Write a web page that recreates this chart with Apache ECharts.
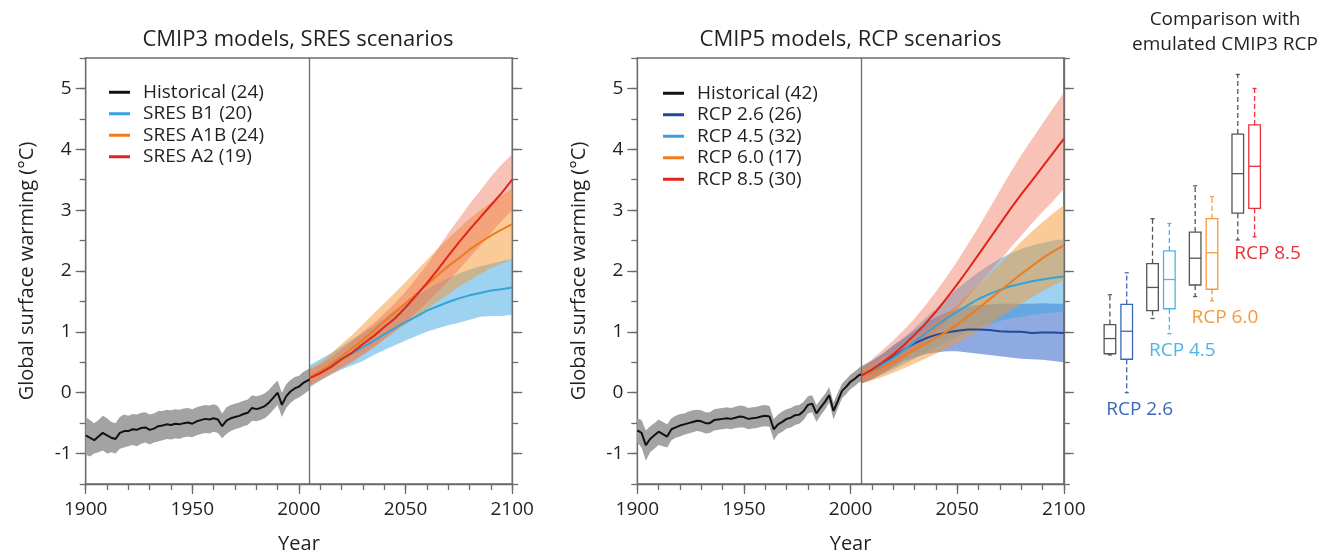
<!DOCTYPE html>
<html>
<head>
<meta charset="utf-8">
<title>Global surface warming: CMIP3 vs CMIP5</title>
<script src="https://cdn.jsdelivr.net/npm/echarts@6.0.0/dist/echarts.min.js"></script>
<style>
  html, body { margin: 0; padding: 0; background: #fff; }
  #chart { width: 1328px; height: 556px; }
</style>
</head>
<body>
<div id="chart"></div>
<script>
// ---- data ----
const splitYear = 2005;
const yTicks = [-1, 0, 1, 2, 3, 4, 5];
const xTicks = [1900, 1950, 2000, 2050, 2100];

const histYears = [
  1900, 1902, 1904, 1906, 1908, 1910, 1912, 1914, 1916, 1918,
  1920, 1922, 1924, 1926, 1928, 1930, 1932, 1934, 1936, 1938,
  1940, 1942, 1944, 1946, 1948, 1950, 1952, 1954, 1956, 1958,
  1960, 1962, 1964, 1966, 1968, 1970, 1972, 1974, 1976, 1978,
  1980, 1982, 1984, 1986, 1988, 1990, 1992, 1994, 1996, 1998,
  2000, 2002, 2004, 2005
];
const projYears = [2005, 2010, 2015, 2020, 2025, 2030, 2035, 2040, 2045, 2050,
  2055, 2060, 2065, 2070, 2075, 2080, 2085, 2090, 2095, 2100];

// CMIP3 historical
const cmip3Hist = [
  -0.70, -0.74, -0.78, -0.72, -0.66, -0.70, -0.74, -0.76, -0.66, -0.63,
  -0.63, -0.60, -0.61, -0.58, -0.57, -0.61, -0.59, -0.55, -0.54, -0.52,
  -0.53, -0.51, -0.52, -0.50, -0.49, -0.51, -0.47, -0.45, -0.43, -0.44,
  -0.42, -0.44, -0.55, -0.46, -0.42, -0.40, -0.38, -0.35, -0.33, -0.25,
  -0.27, -0.25, -0.22, -0.16, -0.08, 0.00, -0.20, -0.06, 0.02, 0.07,
  0.10, 0.16, 0.20, 0.22
];
const cmip3HistLo = [
  -1.02, -1.05, -1.00, -0.98, -0.95, -1.00, -0.98, -1.00, -0.92, -0.90,
  -0.88, -0.86, -0.88, -0.84, -0.82, -0.85, -0.82, -0.80, -0.78, -0.76,
  -0.77, -0.75, -0.76, -0.73, -0.72, -0.73, -0.70, -0.68, -0.66, -0.67,
  -0.64, -0.66, -0.75, -0.68, -0.63, -0.60, -0.58, -0.55, -0.53, -0.46,
  -0.47, -0.45, -0.42, -0.36, -0.28, -0.20, -0.40, -0.25, -0.17, -0.11,
  -0.08, -0.03, 0.02, 0.04
];
const cmip3HistHi = [
  -0.40, -0.45, -0.50, -0.45, -0.38, -0.42, -0.48, -0.50, -0.40, -0.36,
  -0.38, -0.35, -0.36, -0.33, -0.32, -0.36, -0.34, -0.30, -0.30, -0.28,
  -0.29, -0.27, -0.28, -0.26, -0.25, -0.27, -0.24, -0.22, -0.20, -0.21,
  -0.19, -0.22, -0.34, -0.24, -0.20, -0.18, -0.16, -0.13, -0.11, -0.04,
  -0.06, -0.04, -0.01, 0.05, 0.13, 0.20, 0.00, 0.14, 0.21, 0.26,
  0.28, 0.34, 0.38, 0.40
];

// SRES scenarios
const b1Mean = [0.25, 0.35, 0.45, 0.56, 0.65, 0.75, 0.85, 0.96, 1.06, 1.16, 1.25, 1.35, 1.42, 1.49, 1.55, 1.60, 1.64, 1.68, 1.70, 1.73];
const b1Lo = [0.08, 0.20, 0.30, 0.38, 0.45, 0.52, 0.62, 0.70, 0.78, 0.86, 0.93, 1.00, 1.06, 1.11, 1.15, 1.20, 1.25, 1.26, 1.26, 1.28];
const b1Hi = [0.45, 0.55, 0.65, 0.76, 0.88, 0.98, 1.10, 1.22, 1.36, 1.48, 1.60, 1.70, 1.80, 1.88, 1.96, 2.02, 2.08, 2.12, 2.16, 2.20];
const a1bMean = [0.25, 0.35, 0.47, 0.60, 0.73, 0.87, 1.02, 1.17, 1.32, 1.47, 1.62, 1.78, 1.93, 2.08, 2.21, 2.35, 2.47, 2.58, 2.68, 2.77];
const a1bLo = [0.12, 0.22, 0.32, 0.42, 0.52, 0.63, 0.75, 0.88, 1.00, 1.12, 1.24, 1.37, 1.50, 1.62, 1.74, 1.85, 1.95, 2.05, 2.12, 2.20];
const a1bHi = [0.40, 0.50, 0.64, 0.80, 0.95, 1.12, 1.30, 1.47, 1.64, 1.82, 2.00, 2.18, 2.36, 2.54, 2.70, 2.86, 3.00, 3.12, 3.24, 3.35];
const a2Mean = [0.24, 0.32, 0.42, 0.55, 0.66, 0.80, 0.93, 1.08, 1.22, 1.40, 1.60, 1.80, 2.02, 2.25, 2.47, 2.68, 2.88, 3.08, 3.28, 3.50];
const a2Lo = [0.12, 0.20, 0.30, 0.40, 0.50, 0.62, 0.74, 0.88, 1.02, 1.16, 1.32, 1.48, 1.66, 1.84, 2.02, 2.22, 2.42, 2.62, 2.82, 3.00];
const a2Hi = [0.38, 0.46, 0.58, 0.72, 0.85, 1.00, 1.14, 1.30, 1.47, 1.66, 1.88, 2.10, 2.36, 2.62, 2.86, 3.10, 3.32, 3.55, 3.75, 3.92];

// CMIP5 historical
const cmip5Hist = [
  -0.62, -0.66, -0.86, -0.76, -0.70, -0.64, -0.68, -0.72, -0.60, -0.57,
  -0.54, -0.52, -0.50, -0.48, -0.46, -0.47, -0.50, -0.50, -0.45, -0.44,
  -0.43, -0.42, -0.43, -0.41, -0.39, -0.40, -0.43, -0.42, -0.41, -0.39,
  -0.38, -0.39, -0.60, -0.52, -0.48, -0.43, -0.41, -0.37, -0.36, -0.30,
  -0.20, -0.18, -0.34, -0.24, -0.15, -0.04, -0.30, -0.14, 0.03, 0.10,
  0.18, 0.23, 0.29, 0.30
];
const cmip5HistLo = [
  -0.82, -0.90, -1.12, -0.98, -0.92, -0.86, -0.88, -0.90, -0.78, -0.74,
  -0.72, -0.69, -0.67, -0.65, -0.63, -0.64, -0.67, -0.66, -0.62, -0.61,
  -0.60, -0.59, -0.60, -0.58, -0.57, -0.57, -0.60, -0.59, -0.58, -0.56,
  -0.55, -0.56, -0.78, -0.68, -0.64, -0.59, -0.57, -0.53, -0.51, -0.45,
  -0.34, -0.32, -0.48, -0.37, -0.28, -0.16, -0.44, -0.26, -0.09, -0.02,
  0.06, 0.11, 0.17, 0.18
];
const cmip5HistHi = [
  -0.42, -0.45, -0.62, -0.55, -0.50, -0.44, -0.48, -0.52, -0.42, -0.38,
  -0.35, -0.34, -0.31, -0.29, -0.28, -0.29, -0.32, -0.32, -0.27, -0.26,
  -0.25, -0.24, -0.25, -0.23, -0.21, -0.22, -0.25, -0.24, -0.23, -0.21,
  -0.20, -0.22, -0.43, -0.36, -0.31, -0.27, -0.25, -0.21, -0.20, -0.15,
  -0.06, -0.04, -0.20, -0.11, -0.02, 0.09, -0.16, 0.00, 0.15, 0.22,
  0.30, 0.35, 0.41, 0.43
];

// RCP scenarios
const rcp26Mean = [0.28, 0.36, 0.47, 0.59, 0.71, 0.81, 0.89, 0.95, 0.99, 1.02, 1.04, 1.04, 1.03, 1.01, 1.00, 1.00, 0.98, 0.99, 0.99, 0.98];
const rcp26Lo = [0.15, 0.22, 0.32, 0.42, 0.52, 0.58, 0.63, 0.66, 0.68, 0.68, 0.66, 0.64, 0.62, 0.60, 0.58, 0.56, 0.55, 0.54, 0.52, 0.50];
const rcp26Hi = [0.42, 0.52, 0.64, 0.78, 0.90, 1.02, 1.14, 1.24, 1.32, 1.38, 1.42, 1.44, 1.45, 1.46, 1.46, 1.46, 1.46, 1.47, 1.46, 1.46];
const rcp45Mean = [0.28, 0.36, 0.46, 0.57, 0.70, 0.84, 0.97, 1.10, 1.22, 1.33, 1.44, 1.54, 1.62, 1.69, 1.75, 1.79, 1.83, 1.86, 1.89, 1.91];
const rcp45Lo = [0.15, 0.22, 0.30, 0.38, 0.47, 0.56, 0.66, 0.75, 0.84, 0.92, 1.00, 1.07, 1.13, 1.18, 1.22, 1.25, 1.28, 1.30, 1.32, 1.33];
const rcp45Hi = [0.44, 0.52, 0.63, 0.76, 0.90, 1.06, 1.22, 1.38, 1.55, 1.71, 1.85, 1.98, 2.10, 2.20, 2.29, 2.36, 2.42, 2.46, 2.50, 2.52];
const rcp60Mean = [0.28, 0.33, 0.42, 0.50, 0.60, 0.70, 0.80, 0.90, 1.00, 1.12, 1.25, 1.39, 1.53, 1.67, 1.81, 1.95, 2.08, 2.21, 2.32, 2.42];
const rcp60Lo = [0.15, 0.20, 0.26, 0.33, 0.40, 0.48, 0.56, 0.64, 0.73, 0.82, 0.92, 1.02, 1.13, 1.24, 1.35, 1.46, 1.57, 1.67, 1.76, 1.85];
const rcp60Hi = [0.42, 0.48, 0.58, 0.68, 0.80, 0.92, 1.04, 1.16, 1.30, 1.45, 1.62, 1.78, 1.95, 2.12, 2.30, 2.48, 2.65, 2.80, 2.95, 3.08];
const rcp85Mean = [0.28, 0.38, 0.50, 0.63, 0.78, 0.95, 1.13, 1.33, 1.55, 1.78, 2.02, 2.27, 2.52, 2.77, 3.02, 3.26, 3.48, 3.71, 3.94, 4.17];
const rcp85Lo = [0.15, 0.22, 0.32, 0.44, 0.56, 0.70, 0.85, 1.00, 1.18, 1.37, 1.57, 1.78, 1.97, 2.17, 2.38, 2.58, 2.78, 2.97, 3.15, 3.35];
const rcp85Hi = [0.42, 0.55, 0.70, 0.86, 1.03, 1.22, 1.43, 1.66, 1.90, 2.16, 2.44, 2.72, 3.02, 3.32, 3.62, 3.90, 4.16, 4.42, 4.68, 4.93];

// box plots: emulated CMIP3 (grey) vs CMIP5 (coloured)
const boxCats = ['RCP 2.6', 'RCP 4.5', 'RCP 6.0', 'RCP 8.5'];
const cmip3Min = [0.62, 1.22, 1.58, 2.51];
const cmip3Q1 = [0.64, 1.35, 1.77, 2.95];
const cmip3Med = [0.89, 1.73, 2.21, 3.60];
const cmip3Q3 = [1.12, 2.12, 2.64, 4.25];
const cmip3Max = [1.61, 2.86, 3.40, 5.23];
const cmip5Min = [0.00, 0.97, 1.51, 2.56];
const cmip5Q1 = [0.55, 1.38, 1.70, 3.03];
const cmip5Med = [1.01, 1.86, 2.30, 3.72];
const cmip5Q3 = [1.45, 2.33, 2.86, 4.40];
const cmip5Max = [1.97, 2.78, 3.22, 5.00];

// ---- styling ----
const FONT = '"Open Sans", "Noto Sans", sans-serif';
const TEXT = '#231f20';
const AXIS = '#6b6b6b';
const C = {
  hist: '#111111', histBand: '#a3a3a3',
  lblue: '#35a2dd', lblueBand: 'rgba(60,165,225,0.5)',
  orange: '#f07a1c', orangeBand: 'rgba(246,150,50,0.5)',
  red: '#e3241c', redBand: 'rgba(238,110,80,0.42)',
  dblue: '#1d4a9e', dblueBand: 'rgba(50,100,200,0.55)',
  grey: '#555555'
};
const boxColors = ['#3a68b8', '#4db5e6', '#f39a3c', '#e8323a'];

const GRID_TOP = 58, GRID_H = 426, PANEL_W = 426.5;
const P1_LEFT = 85.7, P2_LEFT = 637.3;

const zip = (xs, ys) => xs.map((x, i) => [x, ys[i]]);

function band(xi, yi, xs, lo, hi, fill) {
  return {
    type: 'custom', xAxisIndex: xi, yAxisIndex: yi, silent: true, z: 2,
    data: [[xs[0], lo[0]]],
    renderItem: (params, api) => {
      const pts = xs.map((x, i) => api.coord([x, hi[i]]));
      for (let i = xs.length - 1; i >= 0; i--) pts.push(api.coord([xs[i], lo[i]]));
      return { type: 'polygon', shape: { points: pts }, style: { fill: fill } };
    }
  };
}

function line(name, xi, yi, xs, ys, color, extra) {
  return Object.assign({
    name: name, type: 'line', xAxisIndex: xi, yAxisIndex: yi,
    data: zip(xs, ys), showSymbol: false, symbol: 'none', z: 5,
    lineStyle: { color: color, width: 2 }, itemStyle: { color: color }
  }, extra || {});
}

const splitMark = {
  silent: true, symbol: 'none', label: { show: false },
  lineStyle: { color: AXIS, width: 1.3, type: 'solid' },
  data: [{ xAxis: splitYear }]
};

function boxSeries(name, mins, q1s, meds, q3s, maxs, colors, dx, withLabel) {
  return {
    type: 'custom', name: name, xAxisIndex: 4, yAxisIndex: 8, z: 5, silent: true,
    data: boxCats.map((c, i) => [i, mins[i], q1s[i], meds[i], q3s[i], maxs[i]]),
    encode: { x: 0, y: [1, 2, 3, 4, 5] },
    renderItem: (params, api) => {
      const i = params.dataIndex;
      const center = api.coord([i, 0])[0];
      const cx = center + dx;
      const y = k => api.coord([i, api.value(k)])[1];
      const yMin = y(1), yQ1 = y(2), yMed = y(3), yQ3 = y(4), yMax = y(5);
      const hw = 5.8, cap = 2;
      const col = colors[i];
      const st = { stroke: col, lineWidth: 1.3, fill: 'none' };
      const dash = { stroke: col, lineWidth: 1.3, lineDash: [5, 3] };
      const kids = [
        { type: 'rect', shape: { x: cx - hw, y: yQ3, width: 2 * hw, height: yQ1 - yQ3 }, style: st },
        { type: 'line', shape: { x1: cx - hw, y1: yMed, x2: cx + hw, y2: yMed }, style: st },
        { type: 'line', shape: { x1: cx, y1: yQ3, x2: cx, y2: yMax }, style: dash },
        { type: 'line', shape: { x1: cx, y1: yQ1, x2: cx, y2: yMin }, style: dash },
        { type: 'line', shape: { x1: cx - cap, y1: yMax, x2: cx + cap, y2: yMax }, style: st },
        { type: 'line', shape: { x1: cx - cap, y1: yMin, x2: cx + cap, y2: yMin }, style: st }
      ];
      if (withLabel) {
        kids.push({
          type: 'text', x: center - 12, y: yMin + 7,
          style: { text: boxCats[i], fill: col, font: '19px ' + FONT, align: 'left', verticalAlign: 'top' }
        });
      }
      return { type: 'group', children: kids };
    }
  };
}

// ---- axes ----
// main axes: line, labels and the short ticks; overlay axes: the longer ticks at labelled values
const tickStyle = { color: AXIS, width: 1.3 };
function xMain(grid) {
  return {
    gridIndex: grid, type: 'value', min: 1900, max: 2100, interval: 10,
    name: 'Year', nameLocation: 'middle', nameGap: 50,
    nameTextStyle: { fontSize: 20, color: TEXT, fontFamily: FONT },
    axisLine: { show: true, onZero: false, lineStyle: tickStyle },
    axisTick: { show: true, inside: false, length: 6, lineStyle: tickStyle },
    axisLabel: { customValues: xTicks, fontSize: 19, color: TEXT, fontFamily: FONT, margin: 16, formatter: v => String(v) },
    splitLine: { show: false }
  };
}
function xMajor(grid) {
  return {
    gridIndex: grid, type: 'value', min: 1900, max: 2100, interval: 50,
    axisLine: { show: false, onZero: false },
    axisTick: { show: true, inside: false, length: 10, lineStyle: tickStyle },
    axisLabel: { show: false }, splitLine: { show: false }
  };
}
function yMain(grid, side, withLabels) {
  return {
    gridIndex: grid, type: 'value', position: side, min: -1.5, max: 5.5, interval: 0.5,
    name: withLabels ? 'Global surface warming (°C)' : '',
    nameLocation: 'middle', nameGap: 48, nameRotate: 90,
    nameTextStyle: { fontSize: 20, color: TEXT, fontFamily: FONT },
    axisLine: { show: true, onZero: false, lineStyle: tickStyle },
    axisTick: { show: true, inside: false, length: 6, lineStyle: tickStyle },
    axisLabel: { show: withLabels, customValues: yTicks, fontSize: 19, color: TEXT, fontFamily: FONT, margin: 14 },
    splitLine: { show: false }
  };
}
function yMajor(grid, side) {
  return {
    gridIndex: grid, type: 'value', position: side, min: -1.5, max: 5.5, interval: 0.5,
    axisLine: { show: false, onZero: false },
    axisTick: { show: true, inside: false, length: 10, customValues: yTicks, lineStyle: tickStyle },
    axisLabel: { show: false }, splitLine: { show: false }
  };
}

const gridBox = (left, w, show) => ({
  left: left, top: GRID_TOP, width: w, height: GRID_H, outerBoundsMode: 'none',
  show: show, borderColor: AXIS, borderWidth: 1.3, backgroundColor: 'transparent'
});

const legendBase = {
  orient: 'vertical', icon: 'rect', itemWidth: 21, itemHeight: 3, itemGap: 0,
  padding: 0, selectedMode: false,
  textStyle: { fontSize: 19, lineHeight: 21.5, color: TEXT, fontFamily: FONT, padding: [0, 0, 0, 8] }
};

const chart = echarts.init(document.getElementById('chart'), null, { renderer: 'canvas' });
chart.setOption({
  animation: false,
  backgroundColor: '#ffffff',
  textStyle: { fontFamily: FONT },
  grid: [
    gridBox(P1_LEFT, PANEL_W, true),
    gridBox(P1_LEFT, PANEL_W, false),
    gridBox(P2_LEFT, PANEL_W, true),
    gridBox(P2_LEFT, PANEL_W, false),
    gridBox(1097, 170.5, false)
  ],
  xAxis: [
    xMain(0), xMajor(1), xMain(2), xMajor(3),
    { gridIndex: 4, type: 'category', data: boxCats, show: false }
  ],
  yAxis: [
    yMain(0, 'left', true), yMain(0, 'right', false), yMajor(1, 'left'), yMajor(1, 'right'),
    yMain(2, 'left', true), yMain(2, 'right', false), yMajor(3, 'left'), yMajor(3, 'right'),
    { gridIndex: 4, type: 'value', min: -1.5, max: 5.5, show: false }
  ],
  legend: [
    Object.assign({}, legendBase, {
      left: 109, top: 81.5,
      data: ['Historical (24)', 'SRES B1 (20)', 'SRES A1B (24)', 'SRES A2 (19)']
    }),
    Object.assign({}, legendBase, {
      left: 663, top: 82.5,
      data: ['Historical (42)', 'RCP 2.6 (26)', 'RCP 4.5 (32)', 'RCP 6.0 (17)', 'RCP 8.5 (30)']
    })
  ],
  graphic: [
    { type: 'text', x: 298, y: 40, style: { text: 'CMIP3 models, SRES scenarios', font: '22px ' + FONT, fill: TEXT, align: 'center', verticalAlign: 'middle' } },
    { type: 'text', x: 850.5, y: 40, style: { text: 'CMIP5 models, RCP scenarios', font: '22px ' + FONT, fill: TEXT, align: 'center', verticalAlign: 'middle' } },
    { type: 'text', x: 1225, y: 20, style: { text: 'Comparison with', font: '19px ' + FONT, fill: TEXT, align: 'center', verticalAlign: 'middle' } },
    { type: 'text', x: 1225, y: 45, style: { text: 'emulated CMIP3 RCP', font: '19px ' + FONT, fill: TEXT, align: 'center', verticalAlign: 'middle' } }
  ],
  series: [
    // panel 1 – CMIP3 / SRES
    band(0, 0, histYears, cmip3HistLo, cmip3HistHi, C.histBand),
    band(0, 0, projYears, b1Lo, b1Hi, C.lblueBand),
    band(0, 0, projYears, a1bLo, a1bHi, C.orangeBand),
    band(0, 0, projYears, a2Lo, a2Hi, C.redBand),
    line('Historical (24)', 0, 0, histYears, cmip3Hist, C.hist, { markLine: splitMark }),
    line('SRES B1 (20)', 0, 0, projYears, b1Mean, C.lblue),
    line('SRES A1B (24)', 0, 0, projYears, a1bMean, C.orange),
    line('SRES A2 (19)', 0, 0, projYears, a2Mean, C.red),

    // panel 2 – CMIP5 / RCP
    band(2, 4, histYears, cmip5HistLo, cmip5HistHi, C.histBand),
    band(2, 4, projYears, rcp26Lo, rcp26Hi, C.dblueBand),
    band(2, 4, projYears, rcp45Lo, rcp45Hi, C.lblueBand),
    band(2, 4, projYears, rcp60Lo, rcp60Hi, C.orangeBand),
    band(2, 4, projYears, rcp85Lo, rcp85Hi, C.redBand),
    line('Historical (42)', 2, 4, histYears, cmip5Hist, C.hist, { markLine: splitMark }),
    line('RCP 2.6 (26)', 2, 4, projYears, rcp26Mean, C.dblue),
    line('RCP 4.5 (32)', 2, 4, projYears, rcp45Mean, C.lblue),
    line('RCP 6.0 (17)', 2, 4, projYears, rcp60Mean, C.orange),
    line('RCP 8.5 (30)', 2, 4, projYears, rcp85Mean, C.red),

    // panel 3 – box plots
    boxSeries('Emulated CMIP3', cmip3Min, cmip3Q1, cmip3Med, cmip3Q3, cmip3Max, boxCats.map(() => C.grey), -8.4, false),
    boxSeries('CMIP5', cmip5Min, cmip5Q1, cmip5Med, cmip5Q3, cmip5Max, boxColors, 8.4, true)
  ]
});
</script>
</body>
</html>
